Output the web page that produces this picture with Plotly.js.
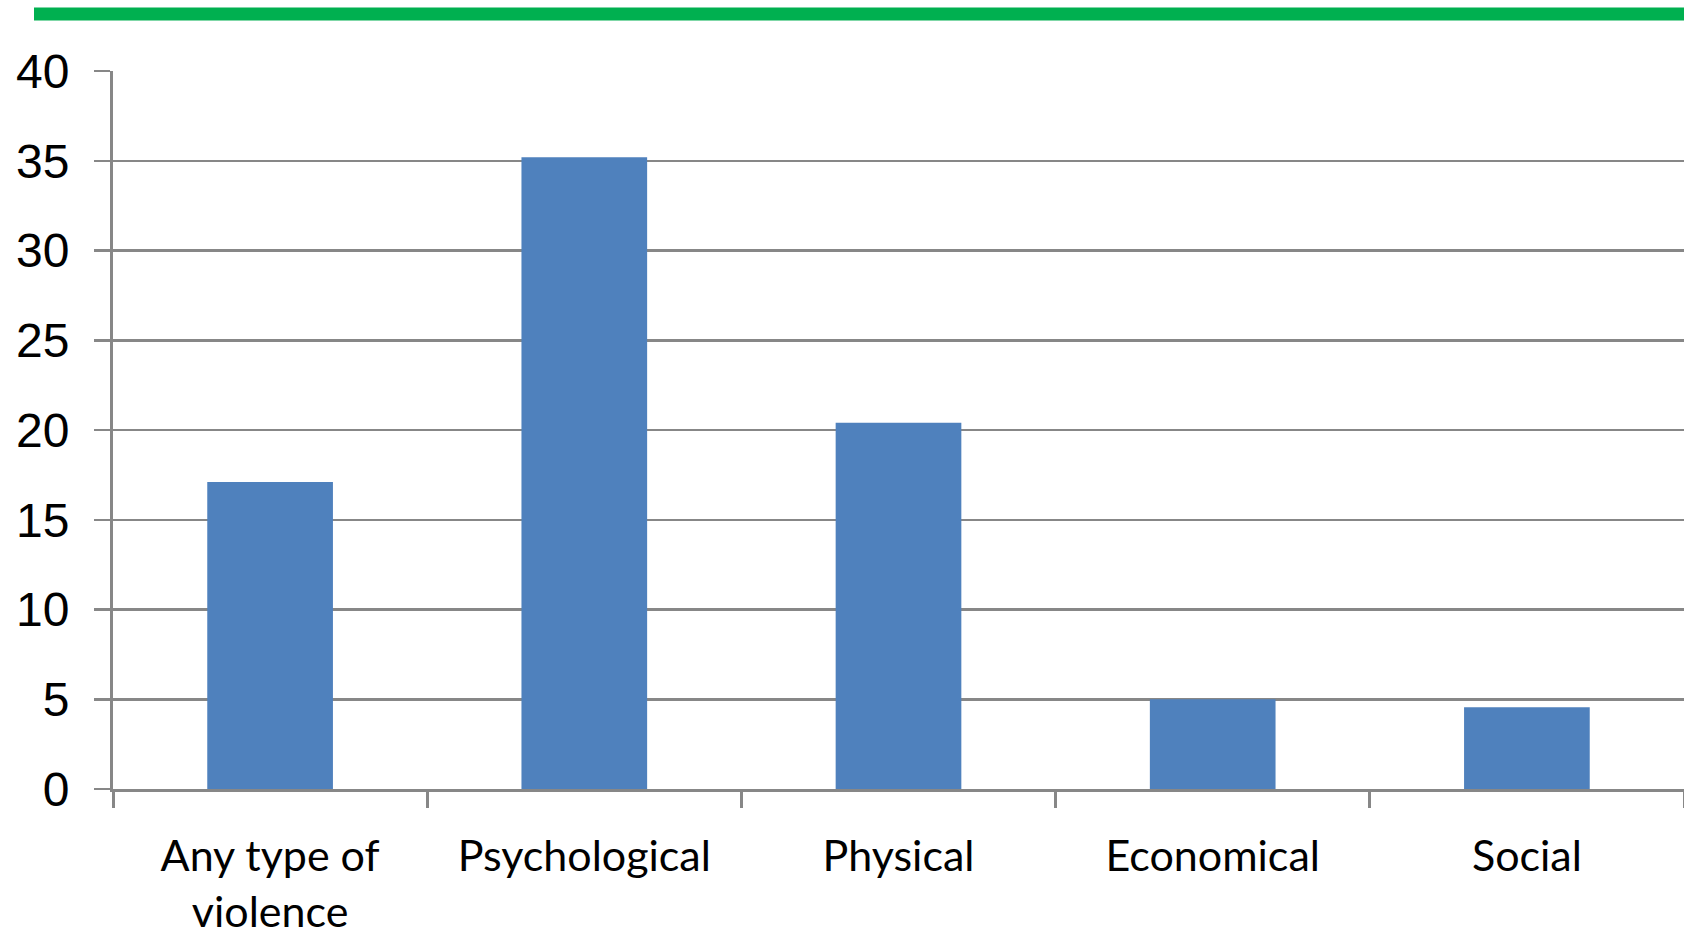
<!DOCTYPE html>
<html>
<head>
<meta charset="utf-8">
<script src="https://cdn.plot.ly/plotly-3.0.1.min.js"></script>
<style>html,body{margin:0;padding:0;background:#fff;}#chart{width:1684px;height:941px;}</style>
</head>
<body>
<div id="chart"></div>
<script>
var categories = ["Any type of<br>violence", "Psychological", "Physical", "Economical", "Social"];
var values = [17.1, 35.2, 20.4, 5.0, 4.55];
var yTickValues = [0, 5, 10, 15, 20, 25, 30, 35, 40];

var gridGray = '#878787';

var trace = {
  type: 'bar',
  x: categories,
  y: values,
  marker: {color: '#4f81bd'},
  hoverinfo: 'none'
};

var layout = {
  width: 1684,
  height: 941,
  autosize: false,
  margin: {l: 113, r: 0, t: 71, b: 152, pad: 0},
  paper_bgcolor: '#ffffff',
  plot_bgcolor: '#ffffff',
  showlegend: false,
  bargap: 0.6,
  xaxis: {
    type: 'category',
    range: [-0.5, 4.5],
    showgrid: false,
    showline: true,
    linecolor: gridGray,
    linewidth: 3,
    ticks: 'outside',
    tickson: 'boundaries',
    ticklen: 16,
    tickwidth: 3,
    tickcolor: gridGray,
    ticklabelstandoff: 27,
    tickfont: {family: 'Lato, Carlito, Calibri, sans-serif', size: 43, color: '#000000'},
    fixedrange: true
  },
  yaxis: {
    range: [0, 40],
    tickvals: yTickValues,
    ticktext: yTickValues.map(String),
    showgrid: true,
    gridcolor: gridGray,
    gridwidth: 2.5,
    zeroline: false,
    showline: true,
    linecolor: gridGray,
    linewidth: 3,
    ticks: 'outside',
    ticklen: 16,
    tickwidth: 2.5,
    tickcolor: gridGray,
    ticklabelstandoff: 15,
    tickfont: {family: 'Liberation Sans, Arial, sans-serif', size: 48, color: '#000000'},
    fixedrange: true
  },
  shapes: [{
    type: 'rect',
    xref: 'paper', yref: 'paper',
    x0: (34 - 113) / 1571, x1: 1,
    y0: (789 - 20.5) / 718, y1: (789 - 7.5) / 718,
    fillcolor: '#00b050',
    line: {width: 0},
    layer: 'above'
  }]
};

Plotly.newPlot('chart', [trace], layout, {displayModeBar: false, staticPlot: true});
</script>
</body>
</html>
